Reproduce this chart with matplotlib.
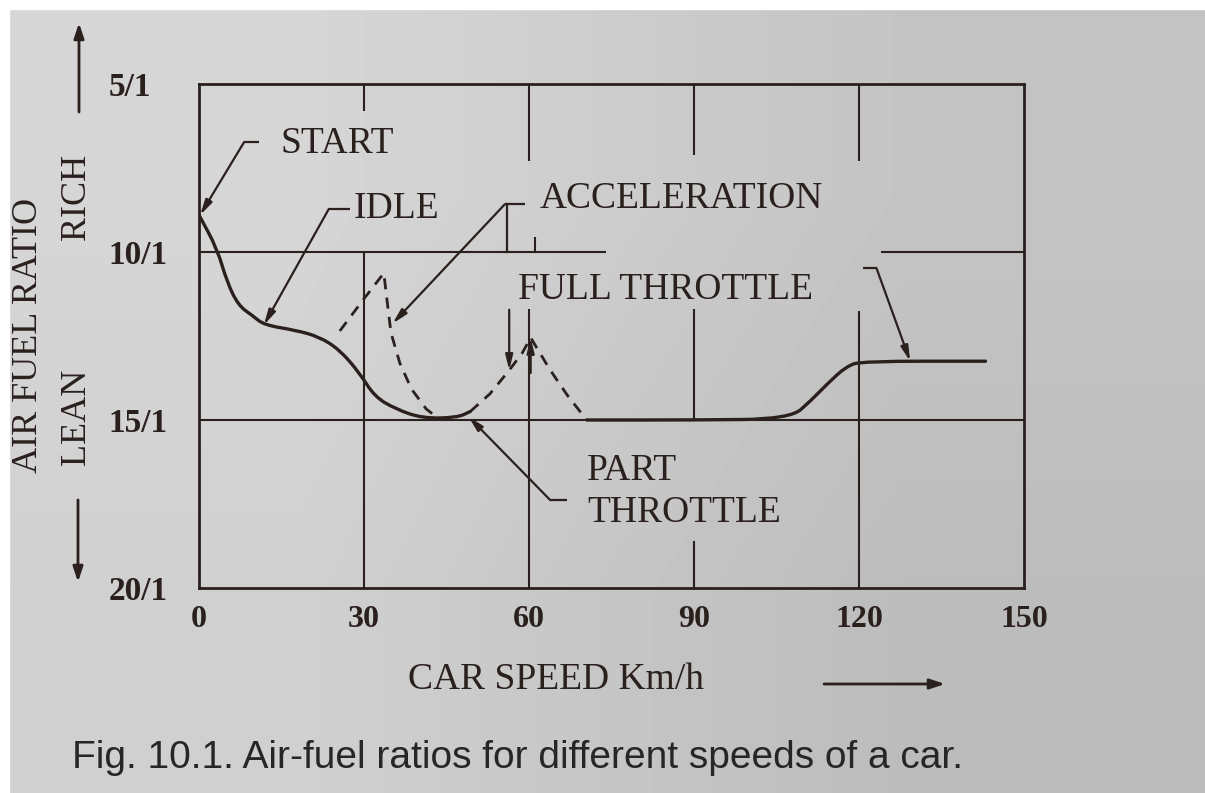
import matplotlib
matplotlib.use("Agg")
import numpy as np
import matplotlib.pyplot as plt
from matplotlib.patches import Rectangle, PathPatch
from matplotlib.path import Path

# ---------------- data ----------------
y_ticks = [5, 10, 15, 20]
y_tick_labels = ["5/1", "10/1", "15/1", "20/1"]
x_ticks = [0, 30, 60, 90, 120, 150]
x_tick_labels = ["0", "30", "60", "90", "120", "150"]

# start -> idle -> part throttle (solid)
idle_x = [0, 3.3, 5.1, 7.2, 9.8, 11.8, 17.6, 21.8, 25.5, 29.2, 31.9, 35.7, 40.6, 46.9, 49.3]
idle_y = [8.9, 9.9, 10.9, 11.6, 11.9, 12.17, 12.33, 12.52, 12.9, 13.6, 14.3, 14.67, 14.95, 14.93, 14.75]

# acceleration (dashed)
accel_x = [25.6, 30.0, 33.6, 34.3, 34.9, 36.5, 38.6, 41.3, 43.5]
accel_y = [12.35, 11.39, 10.63, 11.59, 12.4, 13.3, 14.07, 14.67, 14.95]

# full throttle enrichment around 60 km/h (dashed)
full_x = [49.3, 52.9, 56.4, 58.8, 60.3, 63.8, 67.0, 70.5]
full_y = [14.75, 14.22, 13.52, 13.0, 12.55, 13.5, 14.27, 15.0]

# cruise + high speed full throttle (solid)
cruise_x = [70.5, 90, 107.5, 111.4, 114.2, 117.7, 120.6, 143]
cruise_y = [15.0, 15.0, 14.97, 14.4, 13.93, 13.4, 13.25, 13.25]

INK = "#2a201d"
W, H = 1205, 793

fig = plt.figure(figsize=(W / 100, H / 100), dpi=100, facecolor="#cfcfcf")

# photo-like paper background
bg = fig.add_axes([0, 0, 1, 1], zorder=-10)
grad = np.array([[214, 196], [208, 188]], dtype=float)
bg.imshow(grad, cmap="gray", vmin=0, vmax=255, interpolation="bilinear",
          extent=[0, 1, 0, 1], aspect="auto", origin="upper")
bg.set_xlim(0, 1)
bg.set_ylim(0, 1)
bg.set_axis_off()
fig.patches.append(Rectangle((0, 1 - 9 / H), 1, 9 / H, transform=fig.transFigure,
                             color="white", zorder=-5))
fig.patches.append(Rectangle((0, 0), 9 / W, 1, transform=fig.transFigure,
                             color="white", zorder=-5))

ax = fig.add_axes([199 / W, 1 - 588 / H, 825 / W, 504 / H])
ax.set_facecolor("none")
ax.set_xlim(0, 150)
ax.set_ylim(20, 5)
for s in ax.spines.values():
    s.set_color(INK)
    s.set_linewidth(2.0)

serif = "Liberation Serif"

ax.set_yticks(y_ticks)
ax.set_yticklabels(y_tick_labels, fontfamily=serif, fontweight="bold", fontsize=24, color=INK)
ax.tick_params(axis="y", length=0, pad=65)
for lab in ax.get_yticklabels():
    lab.set_horizontalalignment("left")
ax.set_xticks(x_ticks)
ax.set_xticklabels(x_tick_labels, fontfamily=serif, fontweight="bold", fontsize=23, color=INK)
ax.tick_params(axis="x", length=0, pad=12)

# partial grid lines as drawn in the figure
glw = 1.5
hsegs = [(10, 0, 74), (10, 124, 150), (15, 0, 150)]
vsegs = [(30, 5, 5.8), (30, 10, 20), (60, 5, 7.3), (60, 11.7, 20),
         (90, 5, 7.1), (90, 11.7, 15), (90, 18.6, 20),
         (120, 5, 7.3), (120, 11.75, 20), (61, 9.55, 10)]
for yv, x0, x1 in hsegs:
    ax.plot([x0, x1], [yv, yv], color=INK, lw=glw, solid_capstyle="butt")
for xv, y0, y1 in vsegs:
    ax.plot([xv, xv], [y0, y1], color=INK, lw=glw, solid_capstyle="butt")


def smooth_path(xs, ys):
    """Quadratic-Bezier path through the read points (rendered by matplotlib)."""
    pts = list(zip(xs, ys))
    verts = [pts[0]]
    codes = [Path.MOVETO]
    mid = lambda a, b: ((a[0] + b[0]) / 2, (a[1] + b[1]) / 2)
    verts.append(mid(pts[0], pts[1]))
    codes.append(Path.LINETO)
    for i in range(1, len(pts) - 1):
        verts += [pts[i], mid(pts[i], pts[i + 1])]
        codes += [Path.CURVE3, Path.CURVE3]
    verts.append(pts[-1])
    codes.append(Path.LINETO)
    return Path(verts, codes)


clw = 2.4
for xs, ys in [(idle_x, idle_y), (cruise_x, cruise_y)]:
    ax.add_patch(PathPatch(smooth_path(xs, ys), facecolor="none", edgecolor=INK,
                           lw=clw, joinstyle="round", capstyle="round"))
ax.plot(accel_x, accel_y, color=INK, lw=2.0, dashes=(4, 3))
ax.plot(full_x, full_y, color=INK, lw=2.0, dashes=(4, 3))

# labels and leaders
fs = 27
def label(x, y, s, **kw):
    ax.text(x, y, s, fontfamily=serif, fontsize=fs, color=INK, ha="left", va="center", **kw)

akw = dict(arrowstyle="-|>,head_length=0.9,head_width=0.22", color=INK, lw=1.6,
           shrinkA=0, shrinkB=0)

def leader(pts, tip):
    xs = [p[0] for p in pts]
    ys = [p[1] for p in pts]
    ax.plot(xs, ys, color=INK, lw=1.6, solid_capstyle="butt")
    ax.annotate("", xy=tip, xytext=pts[0], arrowprops=akw)

label(14.8, 6.77, "START")
leader([(8.2, 6.73), (10.9, 6.73)], (0.2, 8.9))

label(28.1, 8.70, "IDLE")
leader([(23.6, 8.72), (27.4, 8.72)], (11.8, 12.17))

label(62.0, 8.41, "ACCELERATION")
leader([(55.6, 8.58), (59.3, 8.58)], (35.2, 12.13))
ax.plot([56.0, 56.0], [8.58, 10], color=INK, lw=1.6)

label(58.0, 11.12, "FULL THROTTLE")
leader([(123.2, 10.49), (120.7, 10.49)], (129.3, 13.25))
ax.annotate("", xy=(56.4, 13.52), xytext=(56.4, 11.72), arrowprops=akw)
ax.annotate("", xy=(60.3, 12.55), xytext=(60.3, 13.6), arrowprops=akw)

label(70.6, 17.13, "PART\nTHROTTLE", linespacing=1.3)
leader([(63.9, 17.39), (66.9, 17.39)], (49.0, 14.9))

# axis titles
ax.set_xlabel("CAR SPEED Km/h", fontfamily=serif, fontsize=27, color=INK)
ax.xaxis.set_label_coords(0.433, -0.147)

ax.set_ylabel("AIR FUEL RATIO", fontfamily=serif, fontsize=26, color=INK)
ax.yaxis.label.set_va("center")
ax.yaxis.set_label_coords(-0.207, 0.502)

fig.text(77 / W, 1 - 197 / H, "RICH", rotation=90, fontfamily=serif, fontsize=26,
         color=INK, ha="center", va="center")
fig.text(77 / W, 1 - 417 / H, "LEAN", rotation=90, fontfamily=serif, fontsize=26,
         color=INK, ha="center", va="center")

arrow_kw = dict(arrowstyle="-|>,head_length=0.9,head_width=0.3", color=INK, lw=2.0,
                shrinkA=0, shrinkB=0)
ax.annotate("", xy=(79 / W, 1 - 23 / H), xytext=(79 / W, 1 - 112 / H),
            xycoords="figure fraction", textcoords="figure fraction", arrowprops=arrow_kw)
ax.annotate("", xy=(78 / W, 1 - 582 / H), xytext=(78 / W, 1 - 500 / H),
            xycoords="figure fraction", textcoords="figure fraction", arrowprops=arrow_kw)
ax.annotate("", xy=(945 / W, 1 - 684 / H), xytext=(824 / W, 1 - 684 / H),
            xycoords="figure fraction", textcoords="figure fraction", arrowprops=arrow_kw)

fig.text(72 / W, 1 - 768 / H, "Fig. 10.1. Air-fuel ratios for different speeds of a car.",
         fontfamily="Liberation Sans", fontsize=28, color="#262626", ha="left", va="baseline")

fig.savefig("out.png", dpi=100, facecolor=fig.get_facecolor())
